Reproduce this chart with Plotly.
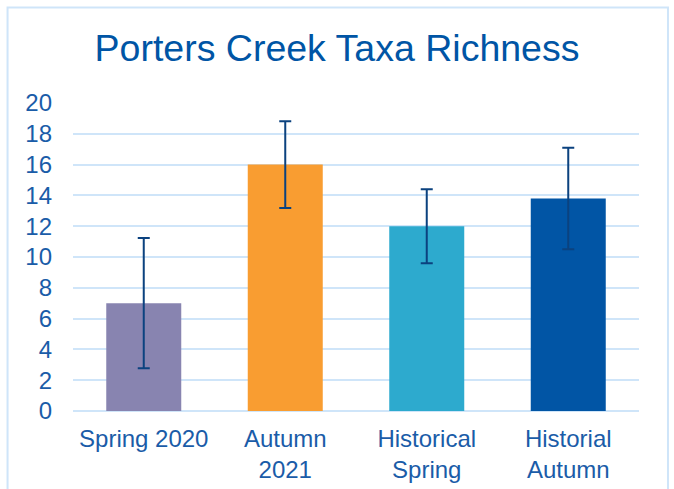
import plotly.graph_objects as go

categories = ["Spring 2020", "Autumn<br>2021", "Historical<br>Spring", "Historial<br>Autumn"]
richness = [7.0, 16.0, 12.0, 13.8]
error = [4.23, 2.82, 2.4, 3.3]
bar_colors = ["#8884B0", "#F99D31", "#2DAACE", "#0155A5"]
y_ticks = [0, 2, 4, 6, 8, 10, 12, 14, 16, 18, 20]

W, H = 674, 489
L, R, T, B = 72.5, 35, 103, 78
pw, ph = W - L - R, H - T - B

fig = go.Figure(go.Bar(
    x=categories, y=richness,
    marker=dict(color=bar_colors, line=dict(width=0)),
    error_y=dict(type="data", array=error, symmetric=True,
                 color="#0B427F", thickness=2, width=6),
    width=0.53,
))

def px(xp):
    return (xp - L) / pw

def py(yp):
    return (H - B - yp) / ph

fig.add_shape(type="rect", xref="paper", yref="paper",
              x0=px(7), x1=px(668), y0=py(500), y1=py(7.5),
              line=dict(color="#CFE5F9", width=2), fillcolor="rgba(0,0,0,0)",
              layer="below")

fig.update_layout(
    width=W, height=H,
    margin=dict(l=L, r=R, t=T, b=B, autoexpand=False),
    paper_bgcolor="white", plot_bgcolor="white",
    font=dict(family="Liberation Sans, Arial, sans-serif", color="#1A5CA8", size=24),
    title=dict(text="Porters Creek Taxa Richness", x=0.5, xanchor="center",
               xref="container", yref="container", y=1 - 48 / H, yanchor="middle",
               font=dict(size=37.5, color="#0055A5")),
    showlegend=False,
    xaxis=dict(showgrid=False, showline=False, ticks="", tickfont=dict(size=24),
               ticklabelstandoff=11, automargin=False),
    yaxis=dict(range=[0, 20], tickvals=y_ticks, showgrid=True, gridcolor="#CFE5F9",
               gridwidth=2, zeroline=True, zerolinecolor="#CFE5F9", zerolinewidth=2,
               showline=False, ticks="", ticklabelstandoff=20, tickfont=dict(size=24),
               automargin=False),
)

fig.write_html("out.html", config={"displayModeBar": False},
               post_script="document.body.style.margin='0';")
